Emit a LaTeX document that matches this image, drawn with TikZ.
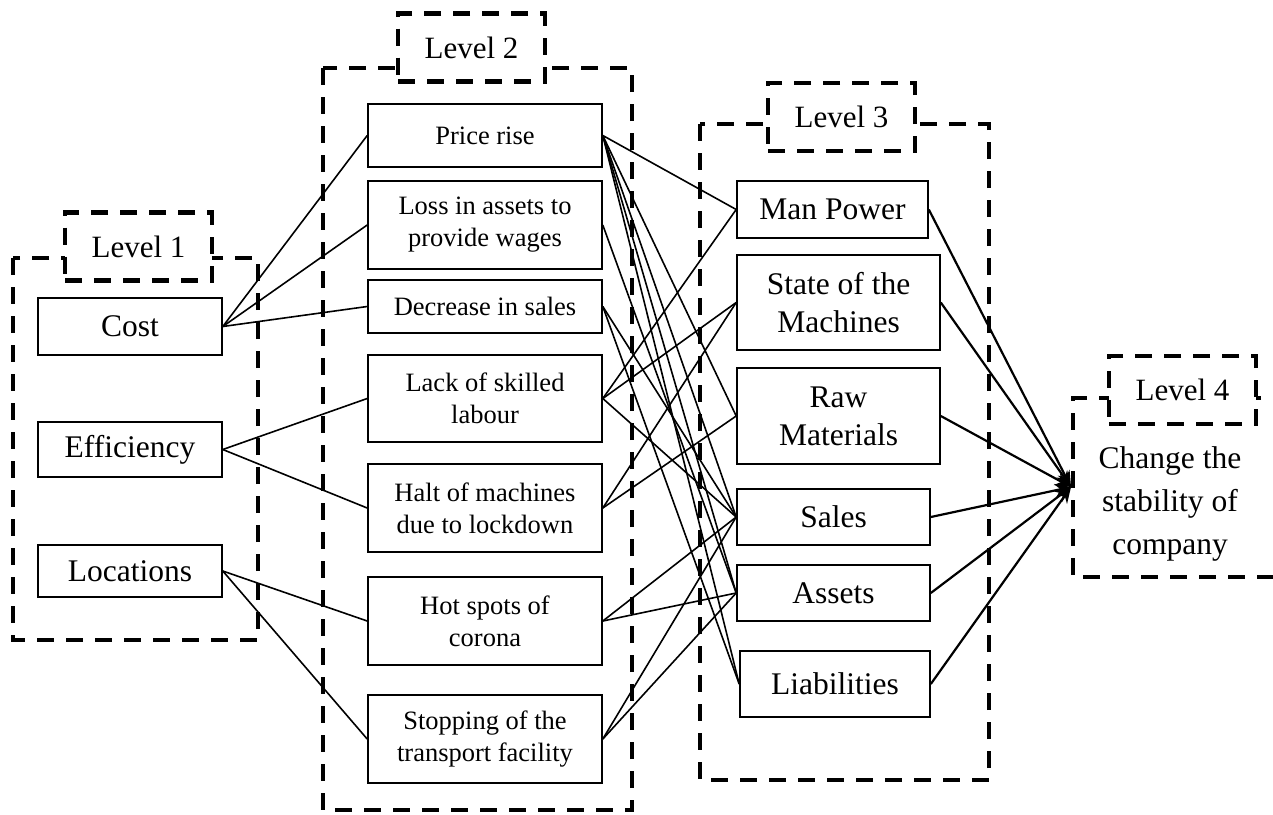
\documentclass[tikz,border=0pt]{standalone}
\usepackage{fontspec}
\setmainfont{Liberation Serif}
\usetikzlibrary{arrows.meta}
\tikzset{
    levelframe/.style={draw, line width=4.5pt, dash pattern=on 17pt off 12pt}, % dashed frame round each level
    levellabel/.style={levelframe, fill=white, minimum width=147pt, minimum height=68pt, inner sep=0pt, font=\fontsize{31}{36}\selectfont}, % the "Level n" tags
    bigbox/.style={draw, line width=1.6pt, inner sep=0pt, align=center, font=\fontsize{31.5}{38}\selectfont}, % boxes of level 1 and 3
    smallbox/.style={draw, line width=1.6pt, inner sep=0pt, align=center, minimum width=234pt, font=\fontsize{26.5}{32}\selectfont}, % boxes of level 2
    link/.style={line width=1.6pt}, % plain connectors
    goal link/.style={line width=2.2pt}, % lines into level 4
    goal tip/.style={-{Stealth[length=16pt,width=13pt]}}, % the heads on those lines
}

\begin{document}
\begin{tikzpicture}[x=1pt, y=-1pt]
    \useasboundingbox (0,0) rectangle (1273,814);
    % frames
    \draw[levelframe] (13,258) rectangle (258,640);
    \draw[levelframe] (323,68) rectangle (632,810);
    \draw[levelframe] (700,124) rectangle (989,780);
    \draw[levelframe] (1290,398) -- (1073,398) -- (1073,577) -- (1290,577);
    \node[levellabel] (lab1) at (138.5,246.5) {Level 1};
    \node[levellabel] (lab2) at (471.5,47.5) {Level 2};
    \node[levellabel] (lab3) at (841.5,117) {Level 3};
    \node[levellabel] (lab4) at (1182.5,390) {Level 4};
    % level 1
    \node[bigbox, minimum width=184pt, minimum height=57pt] (cost) at (130,326.5) {Cost};
    \node[bigbox, minimum width=184pt, minimum height=55pt] (eff) at (130,449.5) {Efficiency};
    \node[bigbox, minimum width=184pt, minimum height=52pt] (loc) at (130,571) {Locations};
    % level 2
    \node[smallbox, minimum height=63pt] (price) at (485,135.5) {Price rise};
    \node[smallbox, minimum height=88pt] (loss) at (485,225) {Loss in assets to\\provide wages};
    \node[smallbox, minimum height=53pt] (dec) at (485,306.5) {Decrease in sales};
    \node[smallbox, minimum height=87pt] (lack) at (485,398.5) {Lack of skilled\\labour};
    \node[smallbox, minimum height=88pt] (halt) at (485,508) {Halt of machines\\due to lockdown};
    \node[smallbox, minimum height=88pt] (hot) at (485,621) {Hot spots of\\corona};
    \node[smallbox, minimum height=88pt] (stop) at (485,739) {Stopping of the\\transport facility};
    % level 3
    \node[bigbox, minimum width=191pt, minimum height=57pt] (man) at (832.5,209.5) {Man Power};
    \node[bigbox, minimum width=203pt, minimum height=95pt] (state) at (838.5,302.5) {State of the\\Machines};
    \node[bigbox, minimum width=203pt, minimum height=96pt] (raw) at (838.5,416) {Raw\\Materials};
    \node[bigbox, minimum width=193pt, minimum height=56pt] (sales) at (833.5,517) {Sales};
    \node[bigbox, minimum width=193pt, minimum height=56pt] (assets) at (833.5,593) {Assets};
    \node[bigbox, minimum width=190pt, minimum height=66pt] (liab) at (835,684) {Liabilities};
    % level 4
    \node[align=center, font=\fontsize{31.5}{43}\selectfont] (goal) at (1170,504) {Change the\\stability of\\company};
    \coordinate (tip) at (1071,487);
    % level 1 to level 2
    \draw[link]
    (cost.east) edge (price.west)
    (cost.east) edge (loss.west)
    (cost.east) edge (dec.west)
    (eff.east) edge (lack.west)
    (eff.east) edge (halt.west)
    (loc.east) edge (hot.west)
    (loc.east) edge (stop.west);
    % level 2 to level 3
    \draw[link]
    (price.east) edge (man.west)
    (price.east) edge (raw.west)
    (price.east) edge (sales.west)
    (price.east) edge (assets.west)
    (price.east) edge (liab.west)
    (loss.east) edge (assets.west)
    (dec.east) edge (sales.west)
    (dec.east) edge (liab.west)
    (lack.east) edge (man.west)
    (lack.east) edge (state.west)
    (lack.east) edge (sales.west)
    (halt.east) edge (state.west)
    (halt.east) edge (raw.west)
    (hot.east) edge (sales.west)
    (hot.east) edge (assets.west)
    (stop.east) edge (sales.west)
    (stop.east) edge (assets.west);
    % level 3 to level 4
    \draw[goal link]
    (man.east) edge[goal tip] (tip)
    (state.east) edge[goal tip] (tip)
    (raw.east) edge[goal tip] (tip)
    (sales.east) edge[goal tip] (tip)
    (assets.east) edge[goal tip] (tip)
    (liab.east) edge[goal tip] (tip);
\end{tikzpicture}
\end{document}
